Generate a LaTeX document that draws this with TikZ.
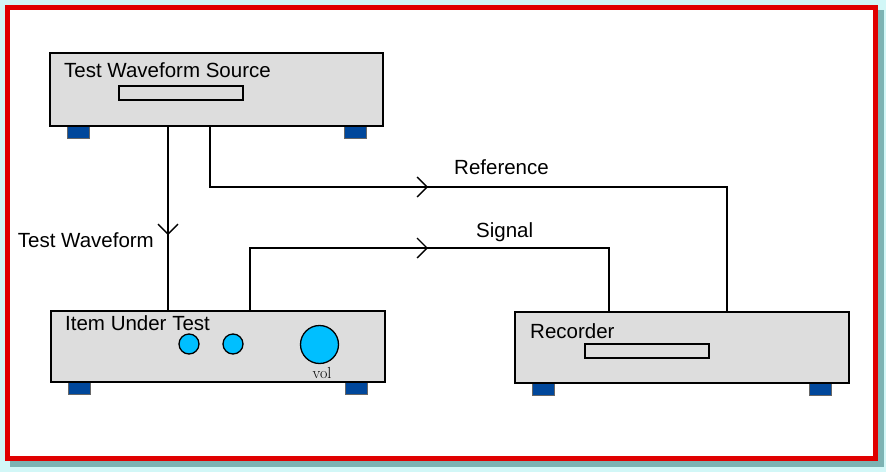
\documentclass[tikz,border=0pt]{standalone}
\usepackage{fontspec}
\setmainfont{Liberation Sans}
\usetikzlibrary{arrows.meta,decorations.markings}
\definecolor{bgcyan}{HTML}{D2F7F7}
\definecolor{shadowc}{HTML}{7DB3B3}
\definecolor{framered}{HTML}{E00000}
\definecolor{boxgray}{HTML}{DDDDDD}
\definecolor{footblue}{HTML}{00479B}
\definecolor{knobblue}{HTML}{00BFFF}
\tikzset{
  unit/.style={draw=black, line width=1.3pt, fill=boxgray, rectangle, inner sep=0pt},
  foot/.style={draw=black!60, line width=0.6pt, fill=footblue, rectangle, inner sep=0pt, minimum width=22pt, minimum height=12pt},
  slot/.style={draw=black, line width=1.1pt, fill=boxgray, rectangle, inner sep=0pt, minimum width=124pt, minimum height=14pt},
  knob/.style={draw=black, line width=1.3pt, fill=knobblue, circle, inner sep=0pt},
  lbl/.style={font=\fontsize{20.5}{22}\selectfont, inner sep=0pt},
  wire/.style={draw=black, line width=1.3pt},
  chev/.style={postaction={decorate}, decoration={markings, mark=at position #1 with {\arrow[line width=1.3pt]{Straight Barb[length=10pt,width=20pt]}}}}
}
\begin{document}
\begin{tikzpicture}[x=1pt,y=-1pt]
\useasboundingbox (0,0) rectangle (886,472);
% frame
\fill[bgcyan] (0,0) rectangle (886,472);
\draw[shadowc, line width=6pt] (13,13) rectangle (881,464);
\draw[framered, line width=5pt, fill=white] (7,7) rectangle (875,458);

% units
\node[foot] (srcfl) at (78,132) {};
\node[foot] (srcfr) at (355,132) {};
\node[unit, minimum width=333pt, minimum height=73pt] (src) at (216.5,89.5) {};
\node[slot] (srcslot) at (181,93) {};
\node[lbl, anchor=base west] (srclbl) at (64,77) {Test Waveform Source};

\node[foot] (iutfl) at (79,388) {};
\node[foot] (iutfr) at (356,388) {};
\node[unit, minimum width=334pt, minimum height=71pt] (iut) at (218,346.5) {};
\node[lbl, anchor=base west] (iutlbl) at (65,330) {Item Under Test};
\node[knob, minimum size=20pt] (k1) at (189,344) {};
\node[knob, minimum size=20pt] (k2) at (233,344) {};
\node[knob, minimum size=38pt] (vol) at (319.5,344.5) {};
\node[text=black, font=\fontfamily{lmr}\fontsize{16}{17}\selectfont, anchor=base, inner sep=0pt] (vollbl) at (322,378) {vol};

\node[foot] (recfl) at (543,389.5) {};
\node[foot] (recfr) at (820,389.5) {};
\node[unit, minimum width=334pt, minimum height=71pt] (rec) at (682,347.5) {};
\node[slot] (recslot) at (647,351) {};
\node[lbl, anchor=base west] (reclbl) at (530,338) {Recorder};

% connector points
\coordinate (tw1) at (168,126);
\coordinate (tw2) at (168,311);
\coordinate (rf1) at (210,126);
\coordinate (rf2) at (210,187);
\coordinate (rf3) at (727,187);
\coordinate (rf4) at (727,312);
\coordinate (sg1) at (250,311);
\coordinate (sg2) at (250,248);
\coordinate (sg3) at (609,248);
\coordinate (sg4) at (609,312);

\draw[wire, chev=109pt] (tw1) -- (tw2);
\draw[wire, chev=279pt] (rf1) -- (rf2) -- (rf3) -- (rf4);
\draw[wire, chev=241pt] (sg1) -- (sg2) -- (sg3) -- (sg4);

\node[lbl, anchor=base west] (reflbl) at (454,174) {Reference};
\node[lbl, anchor=base west] (siglbl) at (476,237) {Signal};
\node[lbl, anchor=base east] (twlbl) at (154,247) {Test Waveform};
\end{tikzpicture}
\end{document}
